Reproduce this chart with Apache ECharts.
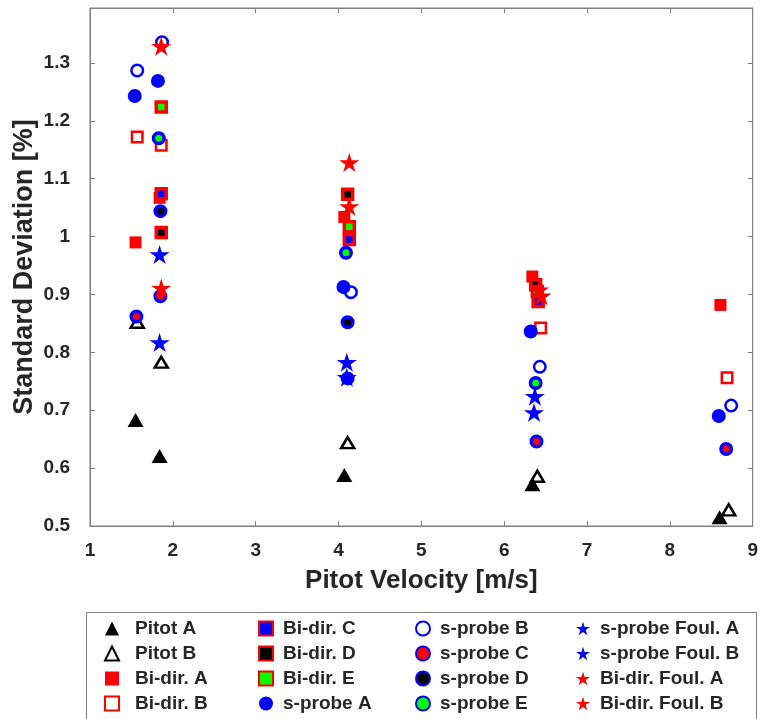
<!DOCTYPE html>
<html>
<head>
<meta charset="utf-8">
<script src="https://cdn.jsdelivr.net/npm/echarts@6/dist/echarts.min.js"></script>
<style>
  html, body { margin: 0; padding: 0; background: #fff; }
  #chart { width: 761px; height: 719px; }
</style>
</head>
<body>
<div id="chart"></div>
<script>
///////////////////////////////////////////////////
// Data: [pitot velocity, std dev]
///////////////////////////////////////////////////
const pitotA = [[1.55, 0.683], [1.84, 0.621], [4.07, 0.588], [6.34, 0.572], [8.60, 0.515]];
const pitotB = [[1.57, 0.852], [1.86, 0.783], [4.11, 0.644], [6.40, 0.586], [8.71, 0.528]];
const bidirA = [[1.55, 0.990], [1.84, 1.067], [4.07, 1.034], [6.34, 0.931], [8.61, 0.882]];
const bidirB = [[1.57, 1.172], [1.86, 1.158], [6.44, 0.842], [8.69, 0.756]];
const bidirC = [[1.86, 1.074], [4.13, 0.995], [6.41, 0.888]];
const bidirD = [[1.86, 1.007], [4.11, 1.073], [6.38, 0.917]];
const bidirE = [[1.86, 1.224], [4.13, 1.017], [6.40, 0.905]];
const sprobeA = [[1.54, 1.243], [1.82, 1.269], [4.06, 0.913], [6.32, 0.836], [8.59, 0.690]];
const sprobeB = [[1.57, 1.287], [1.87, 1.336], [4.15, 0.904], [6.43, 0.775], [8.74, 0.708]];
const sprobeC = [[1.56, 0.862], [1.85, 0.897], [4.11, 0.755], [6.39, 0.646], [8.68, 0.633]];
const sprobeD = [[1.85, 1.044], [4.11, 0.852]];
const sprobeE = [[1.83, 1.170], [4.09, 0.972], [6.38, 0.747]];
const sprobeFoulA = [[1.84, 0.969], [4.10, 0.783], [6.37, 0.724]];
const sprobeFoulB = [[1.84, 0.817], [4.10, 0.757], [6.36, 0.696]];
const bidirFoulA = [[1.86, 1.329], [4.13, 1.128], [6.42, 0.908]];
const bidirFoulB = [[1.86, 0.911], [4.13, 1.052], [6.45, 0.898]];

// legend columns (column-major like the figure)
const legendCols = [
  ['Pitot A', 'Pitot B', 'Bi-dir. A', 'Bi-dir. B'],
  ['Bi-dir. C', 'Bi-dir. D', 'Bi-dir. E', 's-probe A'],
  ['s-probe B', 's-probe C', 's-probe D', 's-probe E'],
  ['s-probe Foul. A', 's-probe Foul. B', 'Bi-dir. Foul. A', 'Bi-dir. Foul. B'],
];

///////////////////////////////////////////////////
// Styles
///////////////////////////////////////////////////
const RED = '#ff0000';
const BLUE = '#0000ff';
const GREEN = '#00ff00';
const AXIS = '#7f7f7f';
const TXT = '#262626';
const FONT = '"Liberation Sans", Arial, sans-serif';
const star = 'path://M50,0L61.2,34.6L97.6,34.5L68.1,55.9L79.4,90.5L50,69L20.6,90.5L31.9,55.9L2.4,34.5L38.8,34.6Z';

function pts(name, data, symbol, size, fill, edge, bw) {
  return {
    name: name,
    type: 'scatter',
    data: data,
    symbol: symbol,
    symbolSize: size,
    symbolKeepAspect: true,
    itemStyle: {
      color: fill,
      borderColor: edge || fill,
      borderWidth: bw || 0,
      opacity: 1,
    },
    emphasis: { disabled: true },
  };
}

const series = [
  pts('Pitot A', pitotA, 'triangle', [16, 14], '#000'),
  pts('Pitot B', pitotB, 'triangle', [13, 11], 'rgba(0,0,0,0)', '#000', 2.5),
  pts('Bi-dir. A', bidirA, 'rect', 12, RED),
  pts('Bi-dir. B', bidirB, 'rect', 10.5, 'rgba(0,0,0,0)', RED, 2.5),
  pts('Bi-dir. C', bidirC, 'rect', 10, BLUE, RED, 3.5),
  pts('Bi-dir. D', bidirD, 'rect', 10, '#000', RED, 3.5),
  pts('Bi-dir. E', bidirE, 'rect', 10, GREEN, RED, 3.5),
  pts('s-probe A', sprobeA, 'circle', 14, BLUE),
  pts('s-probe B', sprobeB, 'circle', 11.5, 'rgba(0,0,0,0)', BLUE, 2.5),
  pts('s-probe C', sprobeC, 'circle', 10.5, RED, BLUE, 3.5),
  pts('s-probe D', sprobeD, 'circle', 10.5, '#000', BLUE, 3.5),
  pts('s-probe E', sprobeE, 'circle', 10.5, GREEN, BLUE, 3.5),
  pts('s-probe Foul. A', sprobeFoulA, star, 20, BLUE),
  pts('s-probe Foul. B', sprobeFoulB, star, 20, BLUE),
  pts('Bi-dir. Foul. A', bidirFoulA, star, 20, RED),
  pts('Bi-dir. Foul. B', bidirFoulB, star, 20, RED),
];

// icon boxes are square so the markers keep their shape
const legendLeft = [104, 258, 415, 576];
const legends = legendCols.map((names, i) => ({
  data: names,
  orient: 'vertical',
  left: legendLeft[i],
  top: 619,
  padding: 0,
  itemWidth: 14,
  itemHeight: 14,
  itemGap: 6,
  selectedMode: false,
  textStyle: {
    fontFamily: FONT, fontWeight: 'bold', fontSize: 19, color: TXT,
    padding: [0, 0, 0, i === 0 ? 11 : 5],
  },
}));

const tickStyle = { inside: true, length: 5, lineStyle: { color: AXIS } };

var myChart = echarts.init(document.getElementById('chart'), null, { renderer: 'canvas' });

myChart.setOption({
  backgroundColor: '#fff',
  animation: false,
  grid: { left: 90, right: 6, top: 8, bottom: 193, show: true, borderColor: AXIS, borderWidth: 1 },
  graphic: [{
    type: 'rect',
    shape: { x: 86.5, y: 612.5, width: 670, height: 120 },
    style: { fill: '#fff', stroke: AXIS, lineWidth: 1 },
    z: -1,
  }],
  legend: legends,
  xAxis: [{
    type: 'value',
    min: 1, max: 9, interval: 1,
    name: 'Pitot Velocity [m/s]',
    nameLocation: 'middle',
    nameGap: 42,
    nameMoveOverlap: false,
    nameTextStyle: { fontFamily: FONT, fontWeight: 'bold', fontSize: 26, color: TXT },
    axisLine: { lineStyle: { color: AXIS } },
    axisTick: tickStyle,
    axisLabel: { margin: 15, fontFamily: FONT, fontWeight: 'bold', fontSize: 19, color: TXT },
    splitLine: { show: false },
  }, {
    type: 'value', position: 'top',
    min: 1, max: 9, interval: 1,
    axisLine: { show: true, lineStyle: { color: AXIS } },
    axisTick: tickStyle,
    axisLabel: { show: false },
    splitLine: { show: false },
  }],
  yAxis: [{
    type: 'value',
    min: 0.5, max: 1.395, interval: 0.1,
    name: 'Standard Deviation [%]',
    nameLocation: 'middle',
    nameGap: 52,
    nameMoveOverlap: false,
    nameTextStyle: { fontFamily: FONT, fontWeight: 'bold', fontSize: 27, color: TXT },
    axisLine: { show: true, lineStyle: { color: AXIS } },
    axisTick: tickStyle,
    axisLabel: {
      margin: 20, showMaxLabel: false, fontFamily: FONT, fontWeight: 'bold', fontSize: 19, color: TXT,
      formatter: (v) => String(Math.round(v * 10) / 10),
    },
    splitLine: { show: false },
  }, {
    type: 'value', position: 'right',
    min: 0.5, max: 1.395, interval: 0.1,
    axisLine: { show: true, lineStyle: { color: AXIS } },
    axisTick: tickStyle,
    axisLabel: { show: false },
    splitLine: { show: false },
  }],
  series: series,
});
</script>
</body>
</html>
